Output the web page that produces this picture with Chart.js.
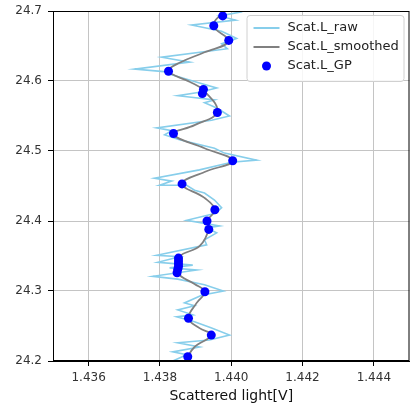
<!DOCTYPE html>
<html>
<head>
<meta charset="utf-8">
<script src="https://cdn.jsdelivr.net/npm/chart.js@4.4.0/dist/chart.umd.min.js"></script>
<style>
  html, body { margin: 0; padding: 0; background: #fff; }
  #wrap { width: 414px; height: 410px; position: relative; }
</style>
</head>
<body>
<div id="wrap"><canvas id="profile"></canvas></div>
<script>
// raw scattered light profile (x = volts, y = depth axis value)
var rawX = [1.44031, 1.43967, 1.44012, 1.43889, 1.43973, 1.44015, 1.43973, 1.43989, 1.43805, 1.43883,
            1.43729, 1.43819, 1.43833, 1.43911, 1.43959, 1.43911, 1.43850, 1.43953, 1.43925, 1.43961,
            1.43995, 1.43945, 1.43791, 1.43833, 1.43813, 1.43855, 1.43953, 1.43981, 1.44071, 1.44001,
            1.43911, 1.43785, 1.43833, 1.43799, 1.43875, 1.43897, 1.43925, 1.43953, 1.43973, 1.43956,
            1.43875, 1.43967, 1.43931, 1.43959, 1.43925, 1.43931, 1.43791, 1.43855, 1.43794, 1.43892,
            1.43827, 1.43903, 1.43780, 1.43850, 1.43925, 1.43978, 1.43917, 1.43869, 1.43897, 1.43850,
            1.43892, 1.43847, 1.43897, 1.43945, 1.43995, 1.43939, 1.43850, 1.43911, 1.43836, 1.43875,
            1.43836];
var rawY = [24.699, 24.693, 24.687, 24.680, 24.671, 24.661, 24.653, 24.646, 24.634, 24.627,
            24.617, 24.613, 24.609, 24.597, 24.590, 24.584, 24.579, 24.573, 24.569, 24.561,
            24.550, 24.544, 24.533, 24.529, 24.523, 24.516, 24.504, 24.497, 24.487, 24.484,
            24.473, 24.461, 24.457, 24.451, 24.451, 24.444, 24.440, 24.430, 24.419, 24.411,
            24.401, 24.393, 24.390, 24.383, 24.373, 24.366, 24.351, 24.349, 24.341, 24.337,
            24.333, 24.330, 24.321, 24.317, 24.309, 24.300, 24.294, 24.283, 24.279, 24.273,
            24.266, 24.263, 24.256, 24.247, 24.237, 24.230, 24.226, 24.220, 24.213, 24.209,
            24.200];

// smoothed profile
var smoothX = [1.43978, 1.43950, 1.43992, 1.43925, 1.43855, 1.43824, 1.43883, 1.43922, 1.43961, 1.43897,
               1.43838, 1.43925, 1.44004, 1.43925, 1.43862, 1.43925, 1.43954, 1.43932, 1.43937, 1.43911,
               1.43855, 1.43850, 1.43897, 1.43926, 1.43903, 1.43880, 1.43911, 1.43944, 1.43897, 1.43878,
               1.43875];
var smoothY = [24.699, 24.679, 24.657, 24.641, 24.626, 24.614, 24.599, 24.587, 24.556, 24.537,
               24.524, 24.504, 24.486, 24.470, 24.453, 24.433, 24.416, 24.400, 24.389, 24.364,
               24.349, 24.326, 24.310, 24.299, 24.283, 24.261, 24.247, 24.237, 24.220, 24.206,
               24.200];

// GP points
var gpX = [1.43976, 1.43951, 1.43993, 1.43824, 1.43922, 1.43919, 1.43961, 1.43838, 1.44004, 1.43862,
           1.43954, 1.43932, 1.43937, 1.43852, 1.43852, 1.43852, 1.43852, 1.43850, 1.43848, 1.43926,
           1.43880, 1.43944, 1.43878];
var gpY = [24.693, 24.679, 24.658, 24.614, 24.588, 24.582, 24.555, 24.525, 24.486, 24.453,
           24.416, 24.400, 24.388, 24.347, 24.343, 24.339, 24.335, 24.331, 24.326, 24.299,
           24.261, 24.237, 24.206];

var xTicks = [1.436, 1.438, 1.440, 1.442, 1.444];
var yTicks = [24.2, 24.3, 24.4, 24.5, 24.6, 24.7];
var seriesNames = ['Scat.L_raw', 'Scat.L_smoothed', 'Scat.L_GP'];

function toPoints(xs, ys) {
    var pts = [];
    for (var i = 0; i < xs.length; i++) {
        pts.push({x: xs[i], y: ys[i]});
    }
    return pts;
}

var FONT = "'DejaVu Sans', sans-serif";

// box round the plot, like matplotlib spines
var framePlugin = {
    id: 'frame',
    afterDatasetsDraw: function(chart) {
        var a = chart.chartArea, ctx = chart.ctx;
        ctx.save();
        ctx.strokeStyle = '#000';
        ctx.lineWidth = 1;
        ctx.strokeRect(a.left + 0.5, a.top + 0.5, a.right - a.left - 1, a.bottom - a.top - 1);
        ctx.restore();
    }
};

// legend in the upper right corner of the axes
var legendPlugin = {
    id: 'boxLegend',
    afterDraw: function(chart) {
        var ctx = chart.ctx, a = chart.chartArea;
        var w = 157, h = 66, x0 = a.right - w - 6, y0 = a.top + 4;
        ctx.save();
        ctx.fillStyle = 'rgba(255,255,255,0.85)';
        ctx.strokeStyle = '#d0d0d0';
        ctx.lineWidth = 1;
        ctx.beginPath();
        ctx.roundRect(x0 + 0.5, y0 + 0.5, w, h, 3);
        ctx.fill();
        ctx.stroke();
        ctx.font = '13px ' + FONT;
        ctx.textBaseline = 'middle';
        var ds = chart.data.datasets;
        for (var i = 0; i < ds.length; i++) {
            var yy = y0 + 13 + i * 19;
            if (i < 2) {
                ctx.strokeStyle = ds[i].borderColor;
                ctx.lineWidth = 2;
                ctx.beginPath();
                ctx.moveTo(x0 + 7, yy);
                ctx.lineTo(x0 + 33, yy);
                ctx.stroke();
            } else {
                ctx.fillStyle = ds[i].backgroundColor;
                ctx.beginPath();
                ctx.arc(x0 + 20, yy, 4.5, 0, Math.PI * 2);
                ctx.fill();
            }
            ctx.fillStyle = '#222';
            ctx.fillText(ds[i].label, x0 + 41, yy);
        }
        ctx.restore();
    }
};

var ctx = document.getElementById('profile').getContext('2d');
var chart = new Chart(ctx, {
    type: 'scatter',
    data: {
        datasets: [
            {
                label: seriesNames[0],
                data: toPoints(rawX, rawY),
                showLine: true,
                borderColor: '#87ceeb',
                borderWidth: 1.6,
                pointRadius: 0,
                tension: 0,
                order: 3
            },
            {
                label: seriesNames[1],
                data: toPoints(smoothX, smoothY),
                showLine: true,
                borderColor: '#808080',
                borderWidth: 1.8,
                pointRadius: 0,
                tension: 0.4,
                order: 2
            },
            {
                label: seriesNames[2],
                data: toPoints(gpX, gpY),
                showLine: false,
                backgroundColor: '#0000ff',
                borderColor: '#0000ff',
                pointRadius: 4.5,
                pointBorderWidth: 0,
                order: 1
            }
        ]
    },
    options: {
        responsive: true,
        maintainAspectRatio: false,
        animation: false,
        layout: { padding: { top: 11, right: 4, left: 0, bottom: 0 } },
        plugins: {
            legend: { display: false },
            tooltip: { enabled: false }
        },
        scales: {
            x: {
                type: 'linear',
                min: 1.435,
                max: 1.445,
                afterBuildTicks: function(axis) {
                    axis.ticks = xTicks.map(function(v) { return {value: v}; });
                },
                afterFit: function(axis) {
                    axis.height = 49;
                    axis.paddingLeft = 0;
                    axis.paddingRight = 0;
                },
                grid: { color: '#c4c4c4', lineWidth: 1, tickColor: '#000', tickLength: 5 },
                border: { color: '#000' },
                ticks: {
                    color: '#333',
                    font: { family: FONT, size: 12 },
                    padding: 5,
                    maxRotation: 0,
                    callback: function(v) { return v.toFixed(3); }
                },
                title: {
                    display: true,
                    text: 'Scattered light[V]',
                    color: '#111',
                    font: { family: FONT, size: 14 },
                    padding: { top: 0, bottom: 5 }
                }
            },
            y: {
                type: 'linear',
                min: 24.2,
                max: 24.7,
                afterBuildTicks: function(axis) {
                    axis.ticks = yTicks.map(function(v) { return {value: v}; });
                },
                afterFit: function(axis) {
                    axis.width = 53;
                    axis.paddingTop = 0;
                    axis.paddingBottom = 0;
                },
                grid: { color: '#c4c4c4', lineWidth: 1, tickColor: '#000', tickLength: 5 },
                border: { color: '#000' },
                ticks: {
                    color: '#333',
                    font: { family: FONT, size: 12 },
                    padding: 6,
                    callback: function(v) { return v.toFixed(1); }
                }
            }
        }
    },
    plugins: [framePlugin, legendPlugin]
});
</script>
</body>
</html>
